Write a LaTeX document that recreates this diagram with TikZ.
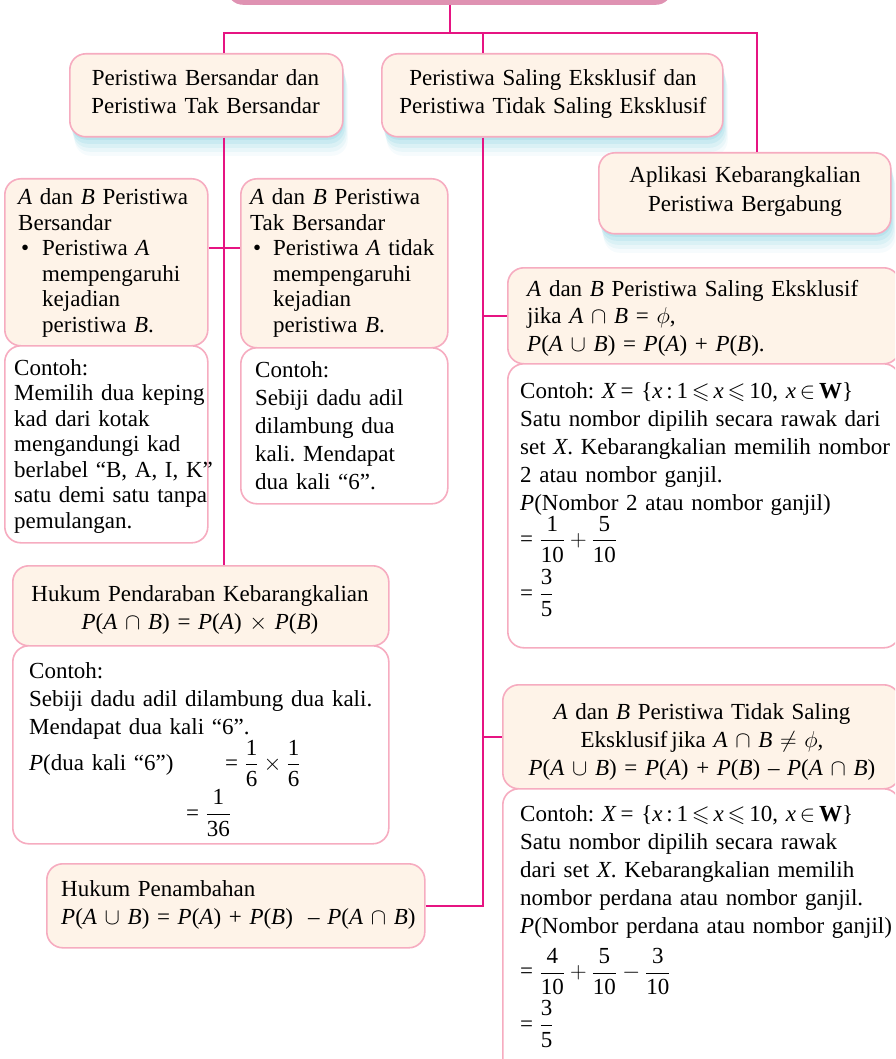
\RequirePackage{fix-cm}
\documentclass[tikz,border=0pt]{standalone}
\usepackage{amsmath, amssymb}
\usepackage{fontspec}
\setmainfont{Liberation Serif}
\usepackage{tikz}
\usetikzlibrary{shadows}

\definecolor{warnagaris}{RGB}{230,20,130}
\definecolor{warnatepi}{RGB}{246,172,192}
\definecolor{warnakrim}{RGB}{254,243,232}
\definecolor{warnaatas}{RGB}{223,146,178}
\definecolor{warnabayang}{RGB}{140,210,225}

\newcommand{\vi}[1]{\textit{#1}}
\newcommand{\pec}[2]{\dfrac{\text{#1}}{\text{#2}}}
\newcommand{\huruf}{\fontsize{23}{28}\selectfont\frenchspacing}
\newcommand{\rapat}{\fontsize{23}{25.5}\selectfont\frenchspacing}
\newcommand{\himpX}{\vi{X}\,= \{\vi{x}\,:\,1\,$\leqslant$\,\vi{x}\,$\leqslant$\,10, \vi{x}\,$\in$\,\textbf{W}\}}

\tikzset{
  kotak/.style = {draw=warnatepi, line width=1.6pt, fill=warnakrim, rounded corners=16pt, inner sep=0pt, anchor=north west},
  contoh/.style = {kotak, fill=white},
  bayangan/.style = {
    general shadow={draw=none, fill=warnabayang, fill opacity=.3, shadow xshift=1pt, shadow yshift=-3pt},
    general shadow={draw=none, fill=warnabayang, fill opacity=.22, shadow xshift=2pt, shadow yshift=-7pt},
    general shadow={draw=none, fill=warnabayang, fill opacity=.16, shadow xshift=3pt, shadow yshift=-11pt},
    general shadow={draw=none, fill=warnabayang, fill opacity=.12, shadow xshift=4pt, shadow yshift=-15pt},
    general shadow={draw=none, fill=warnabayang, fill opacity=.08, shadow xshift=5pt, shadow yshift=-19pt}},
  garis/.style = {draw=warnagaris, line width=2pt},
  teks/.style = {inner sep=0pt, text width=#1, align=left, anchor=base west, font=\huruf},
  teks/.default = 380,
  tengah/.style = {inner sep=0pt, text width=#1, align=center, anchor=base, font=\huruf},
  tengah/.default = 380
}

\begin{document}
\begin{tikzpicture}[x=1pt, y=-1pt]
\useasboundingbox (0,0) rectangle (895,1059);
\clip (0,0) rectangle (895,1059);

% kotak utama
\node[fill=warnaatas, rounded corners=16pt, minimum width=445, minimum height=50, anchor=south] (judul) at (449.5,5) {};
\node[kotak, bayangan, minimum width=273, minimum height=83] (bersandar) at (69,53) {};
\node[kotak, bayangan, minimum width=341, minimum height=83] (eksklusif) at (381,53) {};
\node[kotak, bayangan, minimum width=292, minimum height=81] (aplikasi) at (598,152) {};

% cabang kiri
\node[kotak, minimum width=203, minimum height=167] (bersandarA) at (4,178) {};
\node[contoh, minimum width=203, minimum height=197] (contohA) at (4,345) {};
\node[kotak, minimum width=207, minimum height=169] (takbersandar) at (240,178) {};
\node[contoh, minimum width=207, minimum height=156] (contohB) at (240,347) {};
\node[kotak, minimum width=376, minimum height=80] (pendaraban) at (12,565) {};
\node[contoh, minimum width=376, minimum height=198] (contohC) at (12,645) {};
\node[kotak, minimum width=378, minimum height=84] (penambahan) at (46,863) {};

% cabang kanan
\node[kotak, minimum width=392, minimum height=96] (saling) at (507,267) {};
\node[contoh, minimum width=392, minimum height=284] (contohD) at (507,363) {};
\node[kotak, minimum width=397, minimum height=104] (tidak) at (502,684) {};
\node[contoh, minimum width=397, minimum height=290] (contohE) at (502,788) {};

% garis penghubung
\coordinate (cabang) at (449.5,33);
\coordinate (c1) at (224,33);
\coordinate (c2) at (483,33);
\coordinate (c3) at (757,33);
\draw[garis] (judul.south) -- (cabang);
\draw[garis] (c1 |- bersandar.north) -- (c1) -- (c3) -- (c3 |- aplikasi.north);
\draw[garis] (c2) -- (c2 |- eksklusif.north);
\draw[garis] (c1 |- bersandar.south) -- (c1 |- pendaraban.north);
\draw[garis] (bersandarA.east |- 0,248) -- (takbersandar.west |- 0,248);
\draw[garis] (c2 |- eksklusif.south) -- (c2 |- penambahan.east) -- (penambahan.east);
\foreach \k in {saling, tidak}
  \draw[garis] (c2 |- \k.west) -- (\k.west);

% teks
\node[tengah=270] (tbersandar) at (205.5,86) {Peristiwa Bersandar dan\\Peristiwa Tak Bersandar};
\node[tengah=340] (teksklusif) at (553,86) {Peristiwa Saling Eksklusif dan\\Peristiwa Tidak Saling Eksklusif};
\node[tengah=290, font=\fontsize{23}{29}\selectfont] (taplikasi) at (745,183) {Aplikasi Kebarangkalian\\Peristiwa Bergabung};

\node[teks=250, font=\rapat] (tbersandarA) at (18,205) {\vi{A} dan \vi{B} Peristiwa\\Bersandar\\
  \makebox[24pt][l]{\hspace{3pt}\textbullet}Peristiwa \vi{A}\\\hspace*{24pt}mempengaruhi\\
  \hspace*{24pt}kejadian\\\hspace*{24pt}peristiwa \vi{B}.};
\node[teks=250, font=\rapat] (tcontohA) at (14,375) {Contoh:\\Memilih dua keping\\kad dari kotak\\
  mengandungi kad\\berlabel “B, A, I, K”\\satu demi satu tanpa\\pemulangan.};
\node[teks=250, font=\rapat] (ttakbersandar) at (250,205) {\vi{A} dan \vi{B} Peristiwa\\Tak Bersandar\\
  \makebox[23pt][l]{\hspace{3pt}\textbullet}Peristiwa \vi{A} tidak\\\hspace*{23pt}mempengaruhi\\
  \hspace*{23pt}kejadian\\\hspace*{23pt}peristiwa \vi{B}.};
\node[teks=250] (tcontohB) at (255,377) {Contoh:\\Sebiji dadu adil\\dilambung dua\\kali. Mendapat\\dua kali “6”.};

\node[tengah=370] (tpendaraban) at (200,601) {Hukum Pendaraban Kebarangkalian\\
  \vi{P}(\vi{A} $\cap$ \vi{B}) = \vi{P}(\vi{A}) $\times$ \vi{P}(\vi{B})};
\node[teks=360] (tcontohC) at (29,678) {Contoh:\\Sebiji dadu adil dilambung dua kali.\\
  Mendapat dua kali “6”.\\
  \makebox[196pt][l]{\vi{P}(dua kali “6”)}$\text{=}\;\pec{1}{6}\times\pec{1}{6}$\\[2pt]
  \hspace*{157pt}$\text{=}\;\pec{1}{36}$};
\node[teks=370] (tpenambahan) at (61,896) {Hukum Penambahan\\
  \vi{P}(\vi{A} $\cup$ \vi{B}) = \vi{P}(\vi{A}) + \vi{P}(\vi{B})~ – \vi{P}(\vi{A} $\cap$ \vi{B})};

\node[teks=370, font=\fontsize{23}{27.5}\selectfont] (tsaling) at (527,296) {\vi{A} dan \vi{B} Peristiwa Saling Eksklusif\\
  jika \vi{A} $\cap$ \vi{B} = $\phi$,\\\vi{P}(\vi{A} $\cup$ \vi{B}) = \vi{P}(\vi{A}) + \vi{P}(\vi{B}).};
\node[teks=380] (tcontohD) at (520,398) {Contoh: \himpX\\
  Satu nombor dipilih secara rawak dari\\set \vi{X}. Kebarangkalian memilih nombor\\
  2 atau nombor ganjil.\\\vi{P}(Nombor 2 atau nombor ganjil)\\
  $\text{=}\;\pec{1}{10}+\pec{5}{10}$\\[6pt]$\text{=}\;\pec{3}{5}$};

\node[tengah=390] (ttidak) at (702,719) {\vi{A} dan \vi{B} Peristiwa Tidak Saling\\
  Eksklusif\,jika \vi{A} $\cap$ \vi{B} $\neq$ $\phi$,\\
  \vi{P}(\vi{A} $\cup$ \vi{B}) = \vi{P}(\vi{A}) + \vi{P}(\vi{B}) – \vi{P}(\vi{A} $\cap$ \vi{B})};
\node[teks=380] (tcontohE) at (520,821) {Contoh: \himpX\\
  Satu nombor dipilih secara rawak\\dari set \vi{X}. Kebarangkalian memilih\\
  nombor perdana atau nombor ganjil.\\\vi{P}(Nombor perdana atau nombor ganjil)\\[9pt]
  $\text{=}\;\pec{4}{10}+\pec{5}{10}-\pec{3}{10}$\\[5pt]$\text{=}\;\pec{3}{5}$};
\end{tikzpicture}
\end{document}
